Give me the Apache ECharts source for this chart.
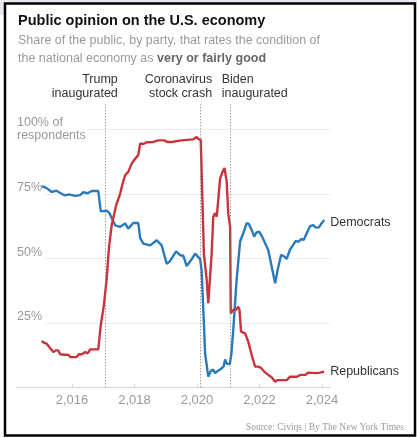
<!DOCTYPE html>
<html>
<head>
<meta charset="utf-8">
<script src="https://cdn.jsdelivr.net/npm/echarts@6/dist/echarts.min.js"></script>
<style>
  html, body { margin: 0; padding: 0; background: #fff; }
  #chart { width: 417px; height: 438px; }
</style>
</head>
<body>
<div id="chart"></div>
<script>
// share rating the economy as very/fairly good, [year, percent]
var demPoints = [
    [2015.03, 78], [2015.19, 77.2], [2015.35, 75.7], [2015.5, 76.2], [2015.56, 75.7],
    [2015.7, 74.8], [2015.78, 74.4], [2015.9, 74.8], [2016.1, 74.2], [2016.26, 74.5],
    [2016.36, 75.6], [2016.5, 75.2], [2016.63, 76.1], [2016.84, 76.1], [2016.92, 68.2],
    [2017.11, 68.5], [2017.2, 67.5], [2017.38, 62.8], [2017.54, 62.2], [2017.7, 63.5],
    [2017.8, 61.5], [2017.96, 63.7], [2018.12, 63.7], [2018.18, 57.9], [2018.28, 55.7],
    [2018.5, 55.0], [2018.71, 57.0], [2018.87, 55.0], [2019.03, 47.9], [2019.13, 48.8],
    [2019.33, 52.7], [2019.46, 51.2], [2019.56, 51.0], [2019.67, 47.0], [2019.83, 49.6],
    [2019.94, 51.8], [2020.1, 49.7], [2020.15, 45], [2020.22, 25], [2020.26, 13],
    [2020.36, 4.2], [2020.45, 6.5], [2020.52, 6.8], [2020.58, 5.5], [2020.66, 6.3],
    [2020.75, 7], [2020.85, 8], [2020.9, 10.8], [2020.95, 9.2], [2021.05, 9],
    [2021.1, 13], [2021.16, 22.2], [2021.27, 42], [2021.38, 56.6], [2021.48, 59.7],
    [2021.59, 63.6], [2021.66, 63.3], [2021.75, 61], [2021.83, 58.4], [2021.9, 60],
    [2021.99, 60.3], [2022.08, 58.5], [2022.18, 55.8], [2022.28, 53.2], [2022.39, 46.7],
    [2022.5, 40.3], [2022.58, 45.5], [2022.69, 51.3], [2022.78, 50.8], [2022.87, 49.8],
    [2022.98, 53.5], [2023.08, 55.2], [2023.16, 56.8], [2023.25, 56.4], [2023.33, 57.4],
    [2023.42, 57.2], [2023.51, 59.7], [2023.62, 62.5], [2023.72, 62.9], [2023.8, 61.9],
    [2023.9, 62], [2023.99, 63.6], [2024.07, 64.8]
];
var repPoints = [
    [2015.03, 17.9], [2015.12, 17.2], [2015.19, 16.9], [2015.3, 15.2], [2015.4, 13.7],
    [2015.48, 14.3], [2015.56, 14.3], [2015.62, 12.8], [2015.75, 12.6], [2015.88, 12.6],
    [2015.95, 11.7], [2016.15, 11.7], [2016.22, 12.8], [2016.32, 12.8], [2016.42, 13.7],
    [2016.5, 13.1], [2016.58, 14.7], [2016.84, 14.7], [2016.92, 24], [2017.02, 31.8],
    [2017.11, 42.1], [2017.19, 55], [2017.27, 62.8], [2017.41, 70.5], [2017.54, 75],
    [2017.62, 79], [2017.7, 82.2], [2017.8, 83.5], [2017.91, 86.7], [2018.02, 88.6],
    [2018.12, 90], [2018.18, 94.4], [2018.3, 94.4], [2018.4, 95], [2018.6, 95.1],
    [2018.76, 95.7], [2018.95, 95.7], [2019.05, 95.1], [2019.19, 95.1], [2019.25, 95.7],
    [2019.5, 95.7], [2019.88, 96.1], [2019.99, 97], [2020.05, 96.2], [2020.12, 95.9],
    [2020.17, 95.5], [2020.22, 51.9], [2020.31, 41.6], [2020.36, 32.6], [2020.41, 32.6],
    [2020.47, 51.9], [2020.52, 66.1], [2020.58, 67.5], [2020.63, 66.1], [2020.68, 72.6],
    [2020.74, 81], [2020.84, 84.2], [2020.88, 85], [2020.95, 79.7], [2021.0, 67.4],
    [2021.06, 62.2], [2021.08, 28.7], [2021.16, 30], [2021.25, 30], [2021.32, 31.2],
    [2021.36, 30], [2021.41, 21.6], [2021.54, 20.9], [2021.64, 17.7], [2021.75, 12.5],
    [2021.86, 8], [2021.95, 8], [2022.05, 7.5], [2022.15, 6.1], [2022.28, 4.8],
    [2022.38, 4], [2022.5, 2.2], [2022.58, 2.8], [2022.87, 2.8], [2022.98, 4.1],
    [2023.2, 4.1], [2023.3, 4.8], [2023.46, 4.8], [2023.57, 5.7], [2023.8, 5.5],
    [2023.94, 5.7], [2024.07, 6.1]
];
var yearTicks = [2016, 2018, 2020, 2022, 2024];
var eventNames = ['Trump\ninaugurated', 'Coronavirus\nstock crash', 'Biden\ninaugurated'];
var eventYears = [2017.05, 2020.1, 2021.08];

var font = "'Liberation Sans', Arial, sans-serif";
var chartDom = document.getElementById('chart');
var myChart = echarts.init(chartDom);
var option;

// label placement next to each event line
var eventLabelStyle = [
    { align: 'right', offset: [13, 0] },
    { align: 'right', offset: [12, 0] },
    { align: 'left', offset: [-9, 0] }
];

option = {
    animation: false,
    title: {
        text: 'Public opinion on the U.S. economy',
        subtext: 'Share of the public, by party, that rates the condition of\nthe national economy as {b|very or fairly good}',
        left: 13,
        top: 8,
        itemGap: 4,
        textStyle: {
            fontFamily: font,
            fontSize: 14.5,
            fontWeight: 'bold',
            color: '#121212'
        },
        subtextStyle: {
            fontFamily: font,
            fontSize: 12.5,
            lineHeight: 18,
            color: '#9a9a9a',
            rich: {
                b: {
                    fontFamily: font,
                    fontSize: 12.5,
                    lineHeight: 18,
                    fontWeight: 'bold',
                    color: '#666'
                }
            }
        }
    },
    graphic: [
        {
            type: 'rect',
            shape: { x: 0, y: 0, width: 417, height: 3 },
            style: { fill: '#e6eaee' }
        },
        {
            type: 'rect',
            shape: { x: 0, y: 0, width: 4, height: 15 },
            style: { fill: '#e6eaee' }
        },
        {
            type: 'rect',
            shape: { x: 5, y: 3.5, width: 410, height: 432 },
            style: { fill: 'none', stroke: '#000', lineWidth: 2.5 }
        },
        {
            type: 'text',
            right: 13,
            bottom: 6,
            style: {
                text: 'Source: Civiqs | By The New York Times',
                font: "9.5px 'Liberation Serif', 'DejaVu Serif', serif",
                fill: '#999'
            }
        }
    ],
    grid: {
        left: 17,
        right: 87,
        top: 103.5,
        bottom: 50.7
    },
    xAxis: {
        type: 'value',
        min: 2014.24,
        max: 2024.256,
        axisLine: { lineStyle: { color: '#d8d8d8' } },
        axisTick: {
            customValues: yearTicks,
            inside: true,
            length: 3,
            lineStyle: { color: '#cfcfcf' }
        },
        axisLabel: {
            customValues: yearTicks,
            margin: 7,
            fontFamily: font,
            fontSize: 13,
            color: '#999'
        },
        splitLine: { show: false }
    },
    yAxis: {
        type: 'value',
        min: 0,
        max: 110,
        interval: 25,
        axisLine: { show: false },
        axisTick: { show: false },
        splitLine: {
            showMinLine: false,
            showMaxLine: false,
            lineStyle: { color: '#ececec' }
        },
        axisLabel: {
            inside: true,
            margin: 0,
            backgroundColor: '#fff',
            padding: [0, 3, 0, 0],
            formatter: function (v) {
                if (v === 100) return '{m|100% of}\n{m|respondents}';
                if (v > 0 && v < 100) return '{n|' + v + '%}';
                return '';
            },
            rich: {
                m: { fontFamily: font, fontSize: 12.5, lineHeight: 13, color: '#999' },
                n: { fontFamily: font, fontSize: 12.5, lineHeight: 14, color: '#999', padding: [0, 0, 12, 0] }
            }
        }
    },
    series: [
        {
            name: 'Democrats',
            type: 'line',
            data: demPoints,
            symbol: 'none',
            lineStyle: { color: '#2a7aba', width: 2.4 },
            itemStyle: { color: '#2a7aba' },
            endLabel: {
                show: true,
                formatter: '{a}',
                distance: 6,
                offset: [0, 2],
                fontFamily: font,
                fontSize: 12.5,
                color: '#333'
            },
            markLine: {
                silent: true,
                symbol: ['none', 'none'],
                label: { show: false },
                lineStyle: { color: '#777', type: [1, 2], width: 1 },
                data: eventYears.map(function (y) { return { xAxis: y }; })
            },
            markPoint: {
                silent: true,
                symbol: 'circle',
                symbolSize: 0,
                label: {
                    show: true,
                    position: 'top',
                    distance: 3,
                    fontFamily: font,
                    fontSize: 12.5,
                    lineHeight: 14,
                    color: '#333'
                },
                data: eventYears.map(function (y, i) {
                    return {
                        coord: [y, 110],
                        label: {
                            formatter: eventNames[i],
                            align: eventLabelStyle[i].align,
                            offset: eventLabelStyle[i].offset
                        }
                    };
                })
            }
        },
        {
            name: 'Republicans',
            type: 'line',
            data: repPoints,
            symbol: 'none',
            lineStyle: { color: '#c9343c', width: 2.4 },
            itemStyle: { color: '#c9343c' },
            endLabel: {
                show: true,
                formatter: '{a}',
                distance: 6,
                fontFamily: font,
                fontSize: 12.5,
                color: '#333'
            }
        }
    ]
};

option && myChart.setOption(option);
</script>
</body>
</html>
